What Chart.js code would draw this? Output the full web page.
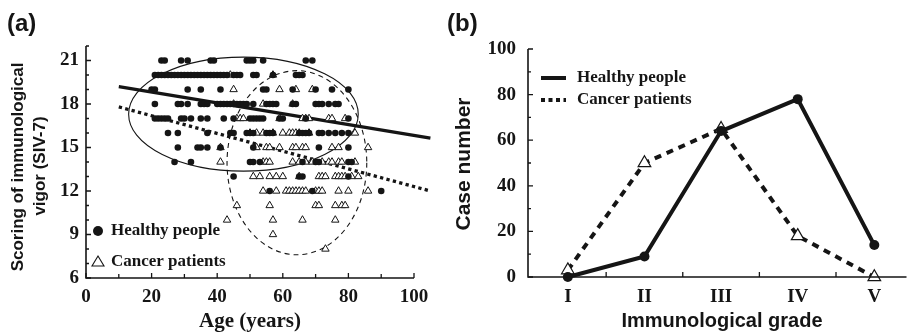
<!DOCTYPE html>
<html>
<head>
<meta charset="utf-8">
<script src="https://cdn.jsdelivr.net/npm/chart.js@4"></script>
<style>
  body { margin: 0; background: #fff; }
  #wrap { position: relative; width: 915px; height: 333px; }
  canvas { position: absolute; top: 0; }
</style>
</head>
<body>
<div id="wrap">
  <canvas id="chartA" width="440" height="333" style="left:0"></canvas>
  <canvas id="chartB" width="475" height="333" style="left:440px"></canvas>
</div>
<script>
// ---- panel (a): ages of each subject, grouped by SIV-7 score ----
const healthyAt21 = [23, 24, 29, 31, 38, 39, 49, 50, 51, 54, 67, 69];
const healthyAt20 = [21, 22, 23, 24, 25, 26, 27, 28, 29, 30, 31, 32, 33, 34, 35, 36, 37, 38, 39, 40, 41, 42, 43, 45, 46, 47, 51, 52, 57, 64, 65, 66];
const healthyAt19 = [20, 21, 31, 35, 41, 54, 55, 63, 70, 75, 80];
const healthyAt18 = [21, 28, 29, 31, 35, 36, 37, 40, 41, 42, 43, 44, 45, 46, 47, 48, 49, 51, 55, 56, 57, 58, 63, 64, 70, 71, 72, 74, 76, 77];
const healthyAt17 = [21, 22, 23, 24, 25, 29, 30, 32, 35, 37, 42, 45, 50, 51, 52, 53, 54, 59, 60, 67, 80];
const healthyAt16 = [25, 28, 37, 44, 45, 49, 50, 51, 55, 56, 57, 65, 66, 67, 68, 71, 72, 74, 76, 78, 80];
const healthyAt15 = [28, 34, 35, 37, 41, 51, 71, 80];
const healthyAt14 = [27, 32, 50, 51, 53, 66, 70, 71, 80, 81];
const healthyAt13 = [45, 65, 66, 80];
const healthyAt12 = [56, 69, 90];

const cancerAt20 = [44, 57];
const cancerAt19 = [45, 59, 64, 69];
const cancerAt18 = [45, 54, 63];
const cancerAt17 = [46, 47, 48, 59, 66, 67, 68, 74, 75, 79];
const cancerAt16 = [50, 52, 54, 57, 60, 62, 63, 64, 65, 68, 82];
const cancerAt15 = [41, 52, 55, 56, 59, 63, 64, 66, 67, 75, 77, 86];
const cancerAt14 = [41, 54, 55, 56, 63, 65, 67, 69, 72, 74, 75, 77, 78, 82];
const cancerAt13 = [51, 53, 56, 58, 60, 65, 71, 72, 73, 76, 77, 78, 79, 81, 83];
const cancerAt12 = [54, 58, 61, 62, 63, 64, 65, 66, 67, 70, 71, 72, 77, 80, 86];
const cancerAt11 = [46, 56, 70, 71, 76, 78, 79];
const cancerAt10 = [43, 57, 66, 76];
const cancerAt9 = [57];
const cancerAt8 = [73];

const healthyRows = [[21, healthyAt21], [20, healthyAt20], [19, healthyAt19], [18, healthyAt18], [17, healthyAt17],
  [16, healthyAt16], [15, healthyAt15], [14, healthyAt14], [13, healthyAt13], [12, healthyAt12]];
const cancerRows = [[20, cancerAt20], [19, cancerAt19], [18, cancerAt18], [17, cancerAt17], [16, cancerAt16],
  [15, cancerAt15], [14, cancerAt14], [13, cancerAt13], [12, cancerAt12], [11, cancerAt11], [10, cancerAt10],
  [9, cancerAt9], [8, cancerAt8]];

// regression lines (age -> score)
const fitAges = [10, 105];
const healthyFit = [19.2, 15.65];
const cancerFit = [17.8, 12.0];

// ellipses: centre age, centre score, half-width (years), half-height (score)
const healthyEllipse = [48, 17.3, 35, 3.93];
const cancerEllipse = [64.3, 13.95, 21.3, 6.35];

const ageTicks = [0, 20, 40, 60, 80, 100];
const scoreTicks = [6, 9, 12, 15, 18, 21];

// ---- panel (b) ----
const grades = ['I', 'II', 'III', 'IV', 'V'];
const healthyCases = [0, 9, 64, 78, 14];
const cancerCases = [3, 50, 65, 18, 0];
const caseTicks = [0, 20, 40, 60, 80, 100];

const serif = '"Liberation Serif", "Times New Roman", serif';
const sans = '"Liberation Sans", Arial, sans-serif';
const ink = '#151515';

function toPoints(rows) {
  const pts = [];
  rows.forEach(([score, ages]) => ages.forEach(a => pts.push({ x: a, y: score })));
  return pts;
}

function drawEllipse(ctx, xs, ys, e, dash) {
  const cx = xs.getPixelForValue(e[0]);
  const cy = ys.getPixelForValue(e[1]);
  const rx = xs.getPixelForValue(e[0] + e[2]) - cx;
  const ry = cy - ys.getPixelForValue(e[1] + e[3]);
  ctx.save();
  ctx.setLineDash(dash);
  ctx.lineWidth = 1.1;
  ctx.strokeStyle = ink;
  ctx.beginPath();
  ctx.ellipse(cx, cy, rx, ry, 0, 0, Math.PI * 2);
  ctx.stroke();
  ctx.restore();
}

// axis lines plus inward ticks
function drawFrame(chart, o) {
  const { ctx } = chart;
  const xs = chart.scales.x, ys = chart.scales.y;
  const left = xs.getPixelForValue(o.xMin), right = xs.getPixelForValue(o.xMax);
  const bottom = ys.getPixelForValue(o.yMin), top = ys.getPixelForValue(o.yMax);
  ctx.save();
  ctx.strokeStyle = ink;
  ctx.lineWidth = 1.6;
  ctx.beginPath();
  ctx.moveTo(left, top);
  ctx.lineTo(left, bottom);
  ctx.lineTo(right, bottom);
  ctx.stroke();
  ctx.lineWidth = 1.3;
  ctx.beginPath();
  o.xTicks.forEach(([v, len]) => {
    const px = xs.getPixelForValue(v);
    ctx.moveTo(px, bottom);
    ctx.lineTo(px, bottom - len);
  });
  o.yTicks.forEach(([v, len]) => {
    const py = ys.getPixelForValue(v);
    ctx.moveTo(left, py);
    ctx.lineTo(left + len, py);
  });
  ctx.stroke();
  ctx.restore();
}

function text(ctx, str, x, y, font, align, rotate) {
  ctx.save();
  ctx.font = font;
  ctx.fillStyle = ink;
  ctx.textAlign = align || 'center';
  ctx.textBaseline = 'middle';
  ctx.translate(x, y);
  if (rotate) ctx.rotate(-Math.PI / 2);
  ctx.fillText(str, 0, 0);
  ctx.restore();
}

const panelA = {
  id: 'panelA',
  beforeDatasetsDraw(chart) {
    const { ctx, scales: { x, y } } = chart;
    drawEllipse(ctx, x, y, healthyEllipse, []);
    drawEllipse(ctx, x, y, cancerEllipse, [5, 4]);
  },
  afterDraw(chart) {
    const { ctx, scales: { x, y } } = chart;
    const xt = [], yt = [];
    for (let v = 0; v <= 100; v += 10) xt.push([v, v % 20 === 0 ? 5 : 4]);
    for (let v = 6; v <= 22; v++) yt.push([v, v % 3 === 0 ? 5 : 3]);
    drawFrame(chart, { xMin: 0, xMax: 100, yMin: 6, yMax: 22, xTicks: xt, yTicks: yt });

    const labelFont = 'bold 19px ' + serif;
    ageTicks.forEach(v => text(ctx, String(v), x.getPixelForValue(v), 297, labelFont));
    scoreTicks.forEach(v => text(ctx, String(v), 79, y.getPixelForValue(v), labelFont, 'right'));

    text(ctx, 'Age (years)', 250, 322, 'bold 21px ' + serif);
    text(ctx, 'Scoring of immunological', 18, 167, 'bold 17px ' + sans, 'center', true);
    text(ctx, 'vigor (SIV-7)', 40, 166, 'bold 17px ' + sans, 'center', true);
    text(ctx, '(a)', 7, 24, 'bold 24px ' + sans, 'left');

    // legend inside the plot
    ctx.save();
    ctx.fillStyle = ink;
    ctx.beginPath();
    ctx.arc(98, 231, 5, 0, Math.PI * 2);
    ctx.fill();
    ctx.strokeStyle = ink;
    ctx.lineWidth = 1.1;
    ctx.beginPath();
    ctx.moveTo(98, 256);
    ctx.lineTo(104, 266);
    ctx.lineTo(92, 266);
    ctx.closePath();
    ctx.stroke();
    ctx.restore();
    text(ctx, 'Healthy people', 111, 231, 'bold 17px ' + serif, 'left');
    text(ctx, 'Cancer patients', 111, 262, 'bold 17px ' + serif, 'left');
  }
};

new Chart(document.getElementById('chartA'), {
  type: 'scatter',
  data: {
    datasets: [
      {
        data: toPoints(healthyRows),
        pointStyle: 'circle',
        pointRadius: 3.3,
        backgroundColor: ink,
        borderColor: ink,
        borderWidth: 0,
        clip: false
      },
      {
        data: toPoints(cancerRows),
        pointStyle: 'triangle',
        pointRadius: 4.3,
        backgroundColor: '#fff',
        borderColor: ink,
        borderWidth: 1,
        clip: false
      },
      {
        type: 'line',
        data: fitAges.map((a, i) => ({ x: a, y: healthyFit[i] })),
        borderColor: ink,
        borderWidth: 3.3,
        pointRadius: 0,
        clip: false
      },
      {
        type: 'line',
        data: fitAges.map((a, i) => ({ x: a, y: cancerFit[i] })),
        borderColor: ink,
        borderWidth: 3.3,
        borderDash: [3.3, 3.3],
        pointRadius: 0,
        clip: false
      }
    ]
  },
  options: {
    responsive: false,
    animation: false,
    events: [],
    layout: { padding: { left: 86, right: 26, top: 46, bottom: 55 } },
    scales: {
      x: { type: 'linear', min: 0, max: 100, display: false },
      y: { type: 'linear', min: 6, max: 22, display: false }
    },
    plugins: { legend: { display: false }, tooltip: { enabled: false } }
  },
  plugins: [panelA]
});

const panelB = {
  id: 'panelB',
  afterDraw(chart) {
    const { ctx, scales: { x, y } } = chart;
    const xt = [[1.5, 5], [2.5, 5], [3.5, 5], [4.5, 5]];
    const yt = [];
    for (let v = 0; v <= 100; v += 10) yt.push([v, v % 20 === 0 ? 5 : 3]);
    drawFrame(chart, { xMin: x.min, xMax: x.max, yMin: 0, yMax: 100, xTicks: xt, yTicks: yt });

    const labelFont = 'bold 19px ' + serif;
    caseTicks.forEach(v => text(ctx, String(v), 76, y.getPixelForValue(v), labelFont, 'right'));
    grades.forEach((g, i) => text(ctx, g, x.getPixelForValue(i + 1), 297, labelFont));

    text(ctx, 'Immunological grade', 282, 321, 'bold 20px ' + sans);
    text(ctx, 'Case number', 24, 164, 'bold 21px ' + sans, 'center', true);
    text(ctx, '(b)', 7, 24, 'bold 24px ' + sans, 'left');

    // legend
    ctx.save();
    ctx.strokeStyle = ink;
    ctx.lineWidth = 4;
    ctx.beginPath();
    ctx.moveTo(101, 78);
    ctx.lineTo(126, 78);
    ctx.stroke();
    ctx.setLineDash([4, 3.5]);
    ctx.beginPath();
    ctx.moveTo(101, 100);
    ctx.lineTo(126, 100);
    ctx.stroke();
    ctx.restore();
    text(ctx, 'Healthy people', 137, 78, 'bold 17px ' + serif, 'left');
    text(ctx, 'Cancer patients', 137, 100, 'bold 17px ' + serif, 'left');
  }
};

new Chart(document.getElementById('chartB'), {
  type: 'line',
  data: {
    datasets: [
      {
        data: healthyCases.map((v, i) => ({ x: i + 1, y: v })),
        borderColor: ink,
        borderWidth: 4,
        pointStyle: 'circle',
        pointRadius: 5,
        backgroundColor: ink,
        pointBorderWidth: 0,
        tension: 0,
        clip: false
      },
      {
        data: cancerCases.map((v, i) => ({ x: i + 1, y: v })),
        borderColor: ink,
        borderWidth: 4,
        borderDash: [7, 6],
        pointStyle: 'triangle',
        pointRadius: 7.3,
        pointBackgroundColor: '#fff',
        pointBorderColor: ink,
        pointBorderWidth: 1.2,
        tension: 0,
        clip: false
      }
    ]
  },
  options: {
    responsive: false,
    animation: false,
    events: [],
    layout: { padding: { left: 88, right: 3, top: 49, bottom: 56 } },
    scales: {
      x: { type: 'linear', min: 0.48, max: 5.42, display: false },
      y: { type: 'linear', min: 0, max: 100, display: false }
    },
    plugins: { legend: { display: false }, tooltip: { enabled: false } }
  },
  plugins: [panelB]
});
</script>
</body>
</html>
